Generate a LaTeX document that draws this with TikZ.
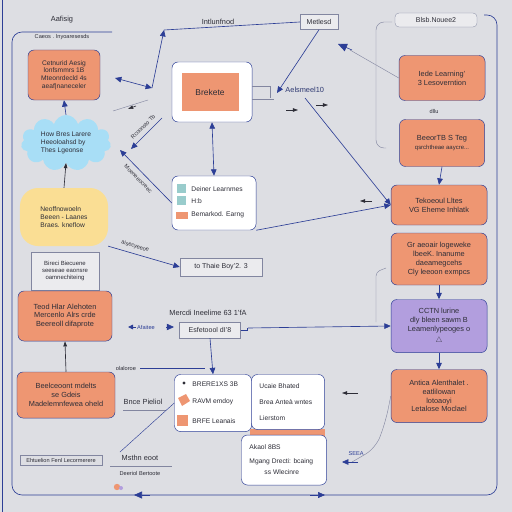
\documentclass[tikz,border=0pt]{standalone}
\usepackage{fontspec}
\setmainfont{Liberation Sans}
\usetikzlibrary{arrows.meta,shapes.symbols}

\definecolor{bg}{RGB}{221,222,227}
\definecolor{navy}{RGB}{44,62,150}
\definecolor{org}{RGB}{238,150,114}
\definecolor{sky}{RGB}{168,222,246}
\definecolor{sand}{RGB}{250,222,148}
\definecolor{lila}{RGB}{178,158,222}
\definecolor{ink}{RGB}{45,45,55}
\definecolor{rule}{RGB}{130,134,160}

\tikzset{
  obox/.style={draw=navy, fill=org, rounded corners=3mm, line width=0.7pt, align=center, inner sep=1mm, text=ink, font=\fontsize{10.5}{12.5}\selectfont},
  wbox/.style={draw=navy, fill=white, rounded corners=3mm, line width=0.7pt, align=left, inner sep=1mm, text=ink, font=\fontsize{10}{12.5}\selectfont},
  tagbox/.style={draw=rule, fill=bg!60!white, line width=0.6pt, inner sep=1mm, text=ink, font=\fontsize{10}{12}\selectfont},
  lbl/.style={text=ink, font=\fontsize{10.5}{12}\selectfont},
  tiny/.style={text=ink, font=\fontsize{8}{9.5}\selectfont},
  item/.style={anchor=west, text=ink, font=\fontsize{9.5}{11}\selectfont},
  link/.style={navy, line width=0.9pt},
  arr/.style={link, -{Triangle[length=3.2mm,width=2.8mm]}},
  darr/.style={link, {Triangle[length=3.2mm,width=2.8mm]}-{Triangle[length=3.2mm,width=2.8mm]}},
  faint/.style={rule, line width=0.6pt},
  darkarr/.style={ink, line width=0.9pt, -{Triangle[length=2.6mm,width=1.8mm]}}
}

\begin{document}
\begin{tikzpicture}[x=0.5mm,y=-0.5mm]
\fill[bg] (0,0) rectangle (512,512);
\useasboundingbox (0,0) rectangle (512,512);

%%%%% FRAMES %%%%%
\draw[navy, line width=1.2pt] (2,0) -- (2,512);
\draw[link, rounded corners=5mm] (112,32) -- (12,32) -- (12,495) -- (497,495) -- (497,15) -- (484,15);
\draw[faint, rounded corners=4mm] (392,22) -- (376,22) -- (376,148) -- (386,148);

\node[lbl] (tleft) at (62,20) {Aafisig};
\node[tiny] (sleft) at (62,37) {Caeos . lnyoaresesds};
\node[lbl] (tmid) at (218,22) {Intlunfnod};
\node[tagbox, minimum width=19mm, minimum height=7.5mm] (mets) at (319,22) {Metlesd};
\node[draw=rule, fill=bg!60!white, rounded corners=2mm, minimum width=41mm, minimum height=7mm, text=ink, font=\fontsize{10}{12}\selectfont] (head) at (436,20) {Blsb.Nouee2};

%%%%% LEFT COLUMN %%%%%
\node[obox, minimum width=36mm, minimum height=25mm, font=\fontsize{9.5}{11}\selectfont] (learn) at (64,75) {Cetnurid Aesig\\lonfsmmrs 1B\\Mteonrdecld 4s\\aeaf|naneceler};
\node[cloud, cloud puffs=11, aspect=1.8, fill=sky, inner sep=0.5mm, minimum width=45mm, minimum height=28mm, align=left, text=ink, font=\fontsize{9.5}{11}\selectfont] (idea) at (66,143) {How Bres Larere\\Heeoloahsd by\\Thes Lgeonse};
\node[fill=sand, rounded corners=9mm, minimum width=44mm, minimum height=29mm, align=left, text=ink, font=\fontsize{9.5}{11}\selectfont] (flow) at (64,217) {Neoffnowoeln\\Beeen - Laanes\\Braes. kneflow};
\node[tagbox, minimum width=34mm, minimum height=19mm, align=center, font=\fontsize{8.5}{10.5}\selectfont] (seq) at (65,271) {Bireci Biecuene\\seeseae eaonsre\\oamnechiteing};
\node[obox, minimum width=47mm, minimum height=25mm] (attn) at (65,316) {Teod Hlar Alehoten\\Mercenlo Alrs crde\\Beereoll difaprote};
\node[obox, minimum width=49mm, minimum height=23mm] (model) at (66,395) {Beelceoont mdelts\\se Gdeis\\Madelemnfewea oheld};

\draw[arr] (idea.north) -- (learn.south);
\draw[darkarr] (flow.north) -- (idea.south);
\draw[darkarr] (model.north) -- (attn.south);

\node[draw=rule, minimum width=41mm, minimum height=5mm, tiny, inner sep=0.5mm] (eval) at (61,460) {Ehtuelion Fenl Lecormerere};
\node[lbl] (pred) at (143,402) {Bnce Pieliol};
\draw[faint] (123,410) -- (166,410);
\node[lbl] (math) at (140,458) {Msthn eoot};
\draw[faint] (110,466) -- (172,466);
\node[tiny] (deri) at (140,473) {Deeriol Bertoote};
\fill[org] (117,487) circle (1.6mm);
\fill[lila] (121,488) circle (1mm);

%%%%% CENTRE %%%%%
\node[wbox, minimum width=40mm, minimum height=30mm] (brk) at (212,92) {};
\node[fill=org, minimum width=28.5mm, minimum height=18.5mm, text=ink, font=\fontsize{12}{14}\selectfont] (brkin) at (210,92) {Brekete};
\node[wbox, minimum width=42mm, minimum height=27mm] (dein) at (214,203) {};
\fill[teal!40] (177,184) rectangle (186,193);
\fill[teal!40] (177,196) rectangle (186,205);
\fill[org] (176,212) rectangle (188,219);
\node[item] (d1) at (189,189) {Deiner Learnmes};
\node[item] (d2) at (189,201) {H:b};
\node[item] (d3) at (189,215) {Bemarkod. Earng};
\draw[darr] (brk.south) -- (dein.north);

\node[tagbox, minimum width=41mm, minimum height=9mm] (boy) at (221,267) {to Thaie Boy'2. 3};
\node[lbl] (merc) at (208,313) {Mercdi Ineelime 63 1'fA};
\node[tagbox, minimum width=30.5mm, minimum height=8mm] (esf) at (210,330) {Esfetoool dI'8};

\node[wbox, minimum width=38.5mm, minimum height=28.5mm] (brere) at (213,403) {};
\fill[ink] (184,383) circle (0.8mm);
\fill[org] (178,398) -- (186,394) -- (190,401) -- (182,406) -- cycle;
\fill[org] (177,415) rectangle (188,426);
\node[item] (b1) at (190,384) {BRERE1XS 3B};
\node[item] (b2) at (190,402) {RAVM emdoy};
\node[item] (b3) at (190,421) {BRFE Leanais};
\fill[org] (250,429) rectangle (325,438);
\node[wbox, minimum width=36.5mm, minimum height=27.5mm] (ucai) at (288,402) {};
\node[item] (u1) at (257,386) {Ucaie Bhated};
\node[item] (u2) at (257,402) {Brea Anteà wntes};
\node[item] (u3) at (257,418) {Lierstom};
\node[wbox, minimum width=42.5mm, minimum height=25mm] (akao) at (284,460) {};
\node[item] (a1) at (247,447) {Akaol 8BS};
\node[item] (a2) at (247,462) {Mgang Drecti: bcaing};
\node[item] (a3) at (262,472) {ss Wlecinre};

%%%%% RIGHT COLUMN %%%%%
\node[obox, minimum width=43mm, minimum height=22.5mm] (r1) at (442,78) {Iede Learning'\\3 Lesoverntion};
\node[obox, minimum width=42.5mm, minimum height=23.5mm] (r2) at (442,143) {BeeorTB S Teg\\\fontsize{8.5}{10}\selectfont qsrchtheae aaycre...};
\node[obox, minimum width=48mm, minimum height=20mm] (r3) at (439,205) {Tekoeoul Lltes\\VG Eheme Inhlatk};
\node[obox, minimum width=48mm, minimum height=26mm] (r4) at (439,259) {Gr aeoair logeweke\\lbeeK. Inanume\\daeamegcehs\\Cly leeoon exmpcs};
\node[obox, fill=lila, minimum width=48mm, minimum height=26.5mm] (r5) at (439,326) {CCTN lurine\\dly bleen sawm B\\Leamenlypeoges o\\[1mm]$\triangle$};
\node[obox, minimum width=48mm, minimum height=26.5mm] (r6) at (439,396) {Antica Alenthalet .\\eatlilowan\\lotoaoyi\\Letalose Moclael};

\node[tiny] (dll) at (434,111) {dllu};
\draw[arr] (r2.south) -- (r3.north);
\draw[arr] (r4.south) -- (r5.north);
\draw[arr] (r5.south) -- (r6.north);

%%%%% CONNECTORS %%%%%
\coordinate (j1) at (152,88);
\coordinate (j2) at (164,30);
\coordinate (j3) at (115,78);
\coordinate (j4) at (277,93);
\coordinate (j5) at (305,98);
\coordinate (j6) at (120,150);
\coordinate (j7) at (131,149);
\coordinate (j8) at (162,118);

\draw[arr] (j1) -- (j2);
\draw[link] (j2) -- (mets.west);
\draw[arr] (mets.south) -- (j4);
\draw[darr] (j3) -- (j1);
\draw[faint] (113,111) -- (148,100);
\draw[darkarr] (136,106) -- (128,109);
\draw[arr] (j8) -- (j7) node[pos=0.45, sloped, above=1.2mm, tiny] {Rcoonsto Tb};
\draw[arr] (dein.west) -- (j6) node[pos=0.55, sloped, below=1.2mm, tiny] {Moeneeocreec};

\node[lbl, anchor=west, text=navy!60!ink] (aels) at (283,90) {Aelsmeel10};
\draw[faint] (252,86) -- (270,86) -- (270,98) (252,99) -- (274,99);
\draw[darkarr] (286,110) -- (298,110);
\draw[darkarr] (316,105) -- (328,105);
\draw[arr] (j5) -- (r3.west);
\draw[arr] (dein.south east) -- (r3.west);
\draw[darkarr] (372,201) -- (360,201);

\draw[faint] (r1.west) -- (350,50);
\draw[link, -{Triangle[length=4.5mm,width=4mm]}] (352,50) -- (338,44);

\draw[arr] (flow.south east) -- (boy.west) node[pos=0.35, sloped, above=1mm, tiny] {aisecyeeoe};

\draw[link] (esf.east) -- ++(7,0) -- ++(0,-2);
\draw[arr] (248,328) -- (r5.west);
\draw[faint, rounded corners=2mm] (386,268) -- (376,272) -- (376,322);
\node[tiny, text=navy] (afa) at (146,327) {Afaitee};
\draw[link, -{Triangle[length=2.6mm,width=2.4mm]}] (136,327) -- (128,327);
\draw[link, -{Triangle[length=3.6mm,width=3.2mm]}] (166,327) -- (174,327);

\draw[arr] (esf.south) -- (brere.north);
\node[tiny] (olal) at (126,368) {olaloroe};
\draw[link, line width=0.6pt] (140,368) -- (205,368);
\draw[link, line width=0.6pt] (brere.west) -- (120,452);

\draw[faint, rounded corners=6mm] (r6.west) -- (386,420) -- (376,448) -- (352,462);
\draw[arr] (358,462) -- (342,462);
\node[tiny, text=navy] (seea) at (356,454) {SEEA};
\draw[darkarr] (358,393) -- (342,393);

\draw[link, -{Triangle[length=4mm,width=3.5mm]}] (150,495) -- (134,495);
\draw[link, -{Triangle[length=3.5mm,width=3mm]}] (310,495) -- (325,495);
\end{tikzpicture}
\end{document}
